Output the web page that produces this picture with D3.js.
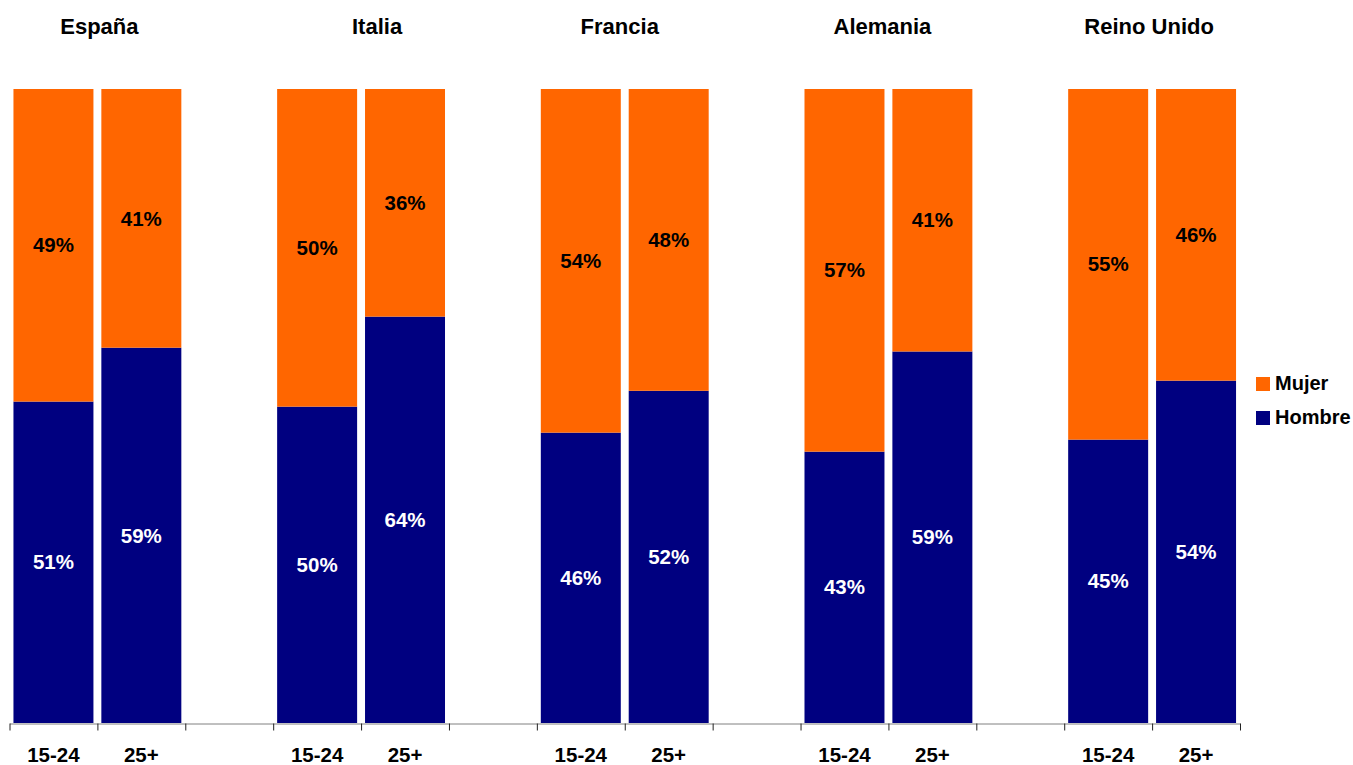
<!DOCTYPE html>
<html>
<head>
<meta charset="utf-8">
<script src="https://cdn.jsdelivr.net/npm/d3@7"></script>
<style>
  html, body { margin: 0; padding: 0; background: #fff; }
  svg { display: block; font-family: "Liberation Sans", Arial, sans-serif; font-weight: bold; }
</style>
</head>
<body>
<svg id="chart" width="1353" height="765"></svg>
<script>
// data
const countries = ["España", "Italia", "Francia", "Alemania", "Reino Unido"];
const ageGroups = ["15-24", "25+"];
const series = ["Hombre", "Mujer"];
// share of men (%) per country: [15-24, 25+]
const hombre = [
    [50.7, 59.2],
    [49.9, 64.1],
    [45.8, 52.4],
    [42.8, 58.6],
    [44.7, 54.0]
];
// share of women (%) per country: [15-24, 25+]
const mujer = [
    [49.3, 40.8],
    [50.1, 35.9],
    [54.2, 47.6],
    [57.2, 41.4],
    [55.3, 46.0]
];

const colors = { Hombre: "#000080", Mujer: "#ff6600" };
const labelColors = { Hombre: "#ffffff", Mujer: "#000000" };

const svg = d3.select("#chart");
let margin = { left: 9.5, right: 113, top: 89, bottom: 42 },
    width = 1353, height = 765,
    plotBottom = height - margin.bottom;

// slots: two bars + a gap per country, no gap after the last one
let slots = [];
countries.forEach((c, i) => {
    ageGroups.forEach(a => slots.push(c + "|" + a));
    if (i < countries.length - 1) slots.push(c + "|gap");
});

let x = d3.scaleBand()
    .domain(slots)
    .range([margin.left, width - margin.right])
    .paddingInner(0.09)
    .paddingOuter(0.045);

let slotScale = d3.scaleLinear()
    .domain([0, slots.length])
    .range([margin.left, width - margin.right]);

let y = d3.scaleLinear().domain([0, 100]).range([plotBottom, margin.top]);

// flatten rows for stacking
let rows = [];
countries.forEach((c, i) => {
    ageGroups.forEach((a, j) => {
        rows.push({ key: c + "|" + a, country: c, age: a, Hombre: hombre[i][j], Mujer: mujer[i][j] });
    });
});

let stacked = d3.stack().keys(series)(rows);

let layers = svg.append("g").selectAll("g")
    .data(stacked)
    .enter()
    .append("g")
    .attr("fill", d => colors[d.key]);

layers.selectAll("rect")
    .data(d => d)
    .enter()
    .append("rect")
    .attr("x", d => x(d.data.key))
    .attr("y", d => y(d[1]))
    .attr("width", x.bandwidth())
    .attr("height", d => y(d[0]) - y(d[1]));

// value labels inside segments
stacked.forEach(layer => {
    svg.append("g").selectAll("text")
        .data(layer)
        .enter()
        .append("text")
        .attr("x", d => x(d.data.key) + x.bandwidth() / 2)
        .attr("y", d => (y(d[0]) + y(d[1])) / 2)
        .attr("dy", "0.35em")
        .attr("text-anchor", "middle")
        .attr("fill", labelColors[layer.key])
        .style("font-size", "20.5px")
        .text(d => Math.round(d.data[layer.key]) + "%");
});

// axis with ticks between slots
let axis = svg.append("g")
    .attr("transform", `translate(0,${plotBottom + 0.5})`)
    .call(d3.axisBottom(slotScale)
        .tickValues(d3.range(slots.length + 1))
        .tickFormat("")
        .tickSize(7)
        .tickSizeOuter(0));
axis.select(".domain").attr("stroke", "#808080");
axis.selectAll(".tick line").attr("stroke", "#222");

// age group labels
svg.append("g").selectAll("text")
    .data(rows)
    .enter()
    .append("text")
    .attr("x", d => x(d.key) + x.bandwidth() / 2)
    .attr("y", 762)
    .attr("text-anchor", "middle")
    .attr("fill", "#000")
    .style("font-size", "20.5px")
    .text(d => d.age);

// country titles
let titleNudge = [2, 16, -5, -6, -3];
svg.append("g").selectAll("text")
    .data(countries)
    .enter()
    .append("text")
    .attr("x", (c, i) => {
        let a = x(c + "|" + ageGroups[0]), b = x(c + "|" + ageGroups[1]) + x.bandwidth();
        return (a + b) / 2 + titleNudge[i];
    })
    .attr("y", 34)
    .attr("text-anchor", "middle")
    .attr("fill", "#000")
    .style("font-size", "22px")
    .text(c => c);

// legend
let legend = svg.append("g").attr("transform", "translate(1256,377)");
let legendItems = legend.selectAll("g")
    .data(series.slice().reverse())
    .enter()
    .append("g")
    .attr("transform", (d, i) => `translate(0,${i * 34})`);
legendItems.append("rect")
    .attr("width", 14)
    .attr("height", 14)
    .attr("fill", d => colors[d]);
legendItems.append("text")
    .attr("x", 19)
    .attr("y", 13)
    .attr("fill", "#000")
    .style("font-size", "20px")
    .text(d => d);
</script>
</body>
</html>
